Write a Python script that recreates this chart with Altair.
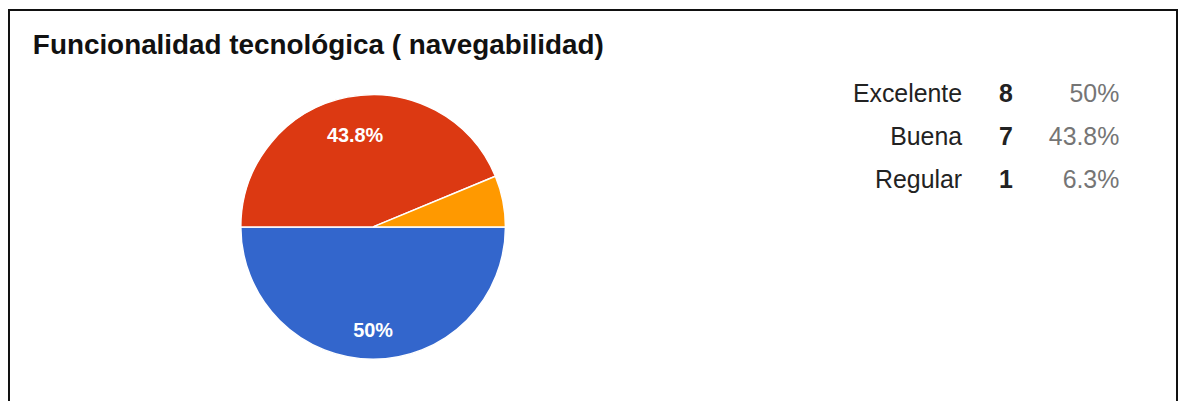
import math
import altair as alt
import pandas as pd

# ---- data ----
title_text = "Funcionalidad tecnológica ( navegabilidad)"
categories = ["Excelente", "Buena", "Regular"]
counts = [8, 7, 1]
percents = ["50%", "43.8%", "6.3%"]
slice_labels = ["50%", "43.8%", ""]
colors = ["#3366cc", "#dc3912", "#ff9900"]

FONT = "Liberation Sans"

df = pd.DataFrame({
    "cat": categories,
    "n": counts,
    "pct": percents,
    "slabel": slice_labels,
    "idx": list(range(len(categories))),
})
tdf = pd.DataFrame({"t": [title_text]})

CX, CY, R = 367, 219, 133

theta = alt.Theta("n:Q", stack=True,
                  scale=alt.Scale(range=[math.pi / 2, math.pi / 2 + 2 * math.pi]))
order = alt.Order("idx:Q", sort="ascending")

base = alt.Chart(df)

pie = base.mark_arc(outerRadius=R, stroke="white", strokeWidth=1.5).encode(
    theta=theta,
    order=order,
    color=alt.Color("cat:N", scale=alt.Scale(domain=categories, range=colors), legend=None),
    x=alt.value(CX),
    y=alt.value(CY),
)

label_a = base.mark_text(radius=105, fontSize=20, fontWeight="bold", color="white",
                         font=FONT, align="center", baseline="middle").encode(
    theta=theta, order=order,
    text=alt.condition(alt.datum.cat == "Excelente", "slabel:N", alt.value("")),
    x=alt.value(CX), y=alt.value(CY),
)
label_b = base.mark_text(radius=93, fontSize=20, fontWeight="bold", color="white",
                         font=FONT, align="center", baseline="middle").encode(
    theta=theta, order=order,
    text=alt.condition(alt.datum.cat == "Buena", "slabel:N", alt.value("")),
    x=alt.value(CX), y=alt.value(CY),
)

Y = alt.Y("cat:N", axis=None,
          scale=alt.Scale(type="point", domain=categories, range=[85, 172], padding=0))

leg_names = base.mark_text(align="right", baseline="middle", fontSize=25,
                           font=FONT, color="#222222").encode(
    x=alt.value(959), y=Y, text="cat:N")
leg_counts = base.mark_text(align="center", baseline="middle", fontSize=25,
                            fontWeight="bold", font=FONT, color="#222222").encode(
    x=alt.value(1003), y=Y, text="n:Q")
leg_pcts = base.mark_text(align="right", baseline="middle", fontSize=25,
                          font=FONT, color="#757575").encode(
    x=alt.value(1117), y=Y, text="pct:N")

title = alt.Chart(tdf).mark_text(align="left", baseline="alphabetic", fontSize=28,
                                 fontWeight="bold", font=FONT, color="#111111").encode(
    x=alt.value(25), y=alt.value(45), text="t:N")

border_left = alt.Chart(tdf).mark_rule(color="#111111", strokeWidth=2).encode(
    x=alt.value(1), y=alt.value(0), y2=alt.value(394))
border_top = alt.Chart(tdf).mark_rule(color="#111111", strokeWidth=2).encode(
    x=alt.value(0), x2=alt.value(1176), y=alt.value(1))
border_right = alt.Chart(tdf).mark_rule(color="#111111", strokeWidth=2).encode(
    x=alt.value(1175), y=alt.value(0), y2=alt.value(394))

chart = alt.layer(
    pie, label_a, label_b, leg_names, leg_counts, leg_pcts, title,
    border_left, border_top, border_right,
).properties(
    width=1176, height=394, autosize="none", padding=0, background="white"
).configure_view(stroke=None)

chart.save("out.html", embed_options={"renderer": "svg", "actions": False})
